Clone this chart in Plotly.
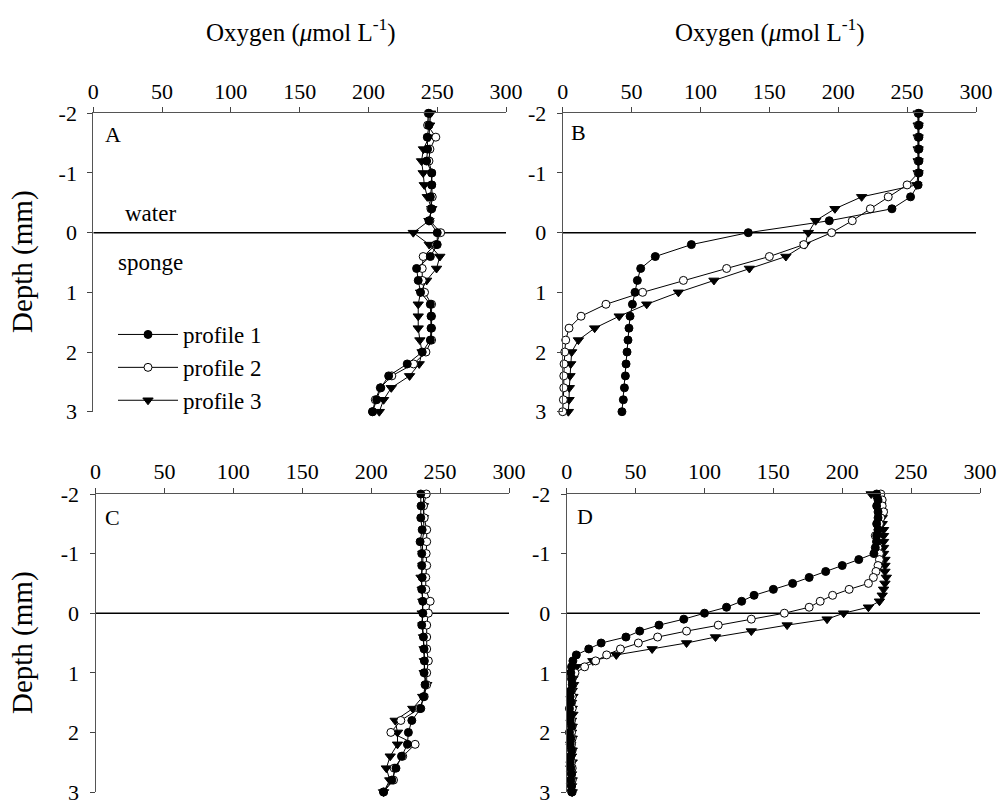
import plotly.graph_objects as go

# ---------------- data ----------------
depth_02 = [-2.0, -1.8, -1.6, -1.4, -1.2, -1.0, -0.8, -0.6, -0.4, -0.2, 0.0,
            0.2, 0.4, 0.6, 0.8, 1.0, 1.2, 1.4, 1.6, 1.8, 2.0, 2.2, 2.4, 2.6, 2.8, 3.0]

depth_01 = [-2.0, -1.9, -1.8, -1.7, -1.6, -1.5, -1.4, -1.3, -1.2, -1.1, -1.0,
            -0.9, -0.8, -0.7, -0.6, -0.5, -0.4, -0.3, -0.2, -0.1, 0.0,
            0.1, 0.2, 0.3, 0.4, 0.5, 0.6, 0.7, 0.8, 0.9, 1.0,
            1.1, 1.2, 1.3, 1.4, 1.5, 1.6, 1.7, 1.8, 1.9, 2.0,
            2.1, 2.2, 2.3, 2.4, 2.5, 2.6, 2.7, 2.8, 2.9, 3.0]

# Panel A
a_p1 = [244, 244, 242.8, 243, 242.3, 246, 246, 245, 246, 244, 250,
        250, 245, 235, 236.2, 237.9, 245, 245.5, 245.5, 245, 239.1,
        228.2, 214.7, 209, 206, 203]
a_p2 = [243.5, 243, 249, 244.7, 244, 246, 246, 246.4, 245.4, 244.7, 252.5,
        249, 239.8, 239.1, 239.1, 240.8, 245.9, 245.9, 245.9, 245.9, 241.8,
        232.8, 217, 208.6, 205, 203]
a_p3 = [245.2, 244.5, 244, 240, 238.6, 239.8, 240.6, 242.8, 246, 244, 232.6,
        244.2, 251.9, 249.5, 242.3, 237.9, 236.2, 236.2, 236.2, 237.4, 239,
        236.9, 229.9, 216.6, 211, 207.9]

# Panel B
b_p1 = [258.6, 258.6, 258.6, 258.6, 258.6, 258.6, 258, 252.5, 239, 193.5, 134.7,
        93.4, 67.2, 56.6, 54.2, 52.5, 50.6, 48.9, 48.1, 47.4, 46.7,
        46, 45.5, 44.8, 44, 43]
b_p2 = [258, 258, 258, 258, 258, 258, 250, 236.3, 223.3, 210.2, 195.2,
        175, 150, 119, 87.6, 58, 31.4, 13.3, 4.6, 2.2, 1.5,
        1, 0.8, 0.8, 0.5, 0]
b_p3 = [258, 258, 258, 258, 258, 258, 257, 217, 197.6, 183.6, 178.3,
        175.9, 162, 135.5, 109.8, 84, 61, 41, 23.2, 11.4, 6.5,
        5.8, 5.3, 4.8, 4.6, 4.1]

# Panel C
c_p1 = [236, 236.2, 236, 237, 235.5, 236.7, 236.7, 237, 236.7, 237.4, 237.5,
        236.7, 237.9, 238.4, 238.6, 238.4, 239.1, 238, 236, 229.5, 227,
        226.3, 222, 218, 215, 209]
c_p2 = [240, 238, 238.5, 240.3, 240.3, 239.9, 240.3, 239.6, 239.6, 242.8, 241.5,
        240.3, 240.3, 240.3, 241.5, 240.3, 240.3, 238.5, 235, 221.5, 214.3,
        231.9, 222.9, 216.7, 216.2, 209]
c_p3 = [238, 237.9, 237.9, 238.4, 237, 237.5, 237.5, 236.2, 237, 237.5, 237,
        237.5, 238, 238.4, 238.6, 238.5, 240.3, 237.4, 230.2, 217.4, 219.1,
        219.1, 213.8, 211, 213.5, 209]

# Panel D
d_p1 = [225, 226, 225, 226, 226, 225, 226, 225, 225, 224, 223,
        212, 200, 188, 176, 164, 150, 136, 127, 116, 100,
        85, 67, 53, 43, 25, 16, 7, 4.5, 3.5, 3,
        3.5, 4, 3, 2.5, 3, 2, 3, 2.5, 3.5, 2,
        3, 2.5, 3.5, 3, 2.5, 3, 3.5, 3, 3.5, 3.6]
d_p2 = [228, 229, 229, 230, 228, 227, 226, 224, 225, 226, 227,
        227, 226, 224.5, 222.6, 219, 205, 193, 184, 176, 158,
        134, 110, 87, 66, 52, 39, 29, 21, 13, 6,
        4, 4.5, 3.5, 4, 3.5, 4, 3, 3.5, 4, 3.5,
        4, 3.5, 4, 3, 3.5, 4, 3.5, 4, 3.5, 4]
d_p3 = [221, 226, 228, 229, 229, 229, 230, 230, 230, 230, 230,
        231, 231, 231, 232, 231, 230, 229, 227, 219, 201,
        189, 160, 134, 108, 87, 62, 36, 19, 7, 4,
        4.5, 5, 4, 4.5, 3.5, 4, 4.5, 3.5, 4, 3.5,
        4, 3, 4, 3.5, 4, 3, 3.5, 4, 3.5, 4]

x_ticks = [0, 50, 100, 150, 200, 250, 300]
x_ticktext = ["0", "50", "100", "150", "200", "250", "300"]
y_ticks = [-2, -1, 0, 1, 2, 3]
y_ticktext = ["-2", "-1", "0", "1", "2", "3"]
profile_names = ["profile 1", "profile 2", "profile 3"]

# ---------------- figure ----------------
W, H = 999, 801
FONT = "Liberation Serif, serif"
FS = 22

panels = [
    ("", (93.3, 506.0), (113.3, 411.7), depth_02, [a_p1, a_p2, a_p3]),
    ("2", (562.7, 976.0), (113.3, 411.7), depth_02, [b_p1, b_p2, b_p3]),
    ("3", (95.5, 509.0), (494.0, 792.0), depth_02, [c_p1, c_p2, c_p3]),
    ("4", (566.7, 980.0), (494.0, 792.0), depth_01, [d_p1, d_p2, d_p3]),
]

marker_styles = [
    dict(symbol="circle", size=8, color="black", line=dict(color="black", width=1)),
    dict(symbol="circle", size=8, color="white", line=dict(color="black", width=1)),
    dict(symbol="triangle-down", size=9, color="black", line=dict(color="black", width=1)),
]

fig = go.Figure()
layout = {}
shapes = []

for pi, (suf, xd, yd, depth, series) in enumerate(panels):
    xa = "x" + suf
    ya = "y" + suf
    for k in [2, 1, 0]:
        fig.add_trace(go.Scatter(
            x=series[k], y=depth, mode="lines+markers",
            line=dict(color="black", width=1),
            marker=marker_styles[k],
            name=profile_names[k],
            legendrank=k + 1,
            showlegend=(pi == 0),
            cliponaxis=False,
            xaxis=xa, yaxis=ya,
        ))
    layout["xaxis" + suf] = dict(
        domain=[xd[0] / W, xd[1] / W], range=[0, 300], side="top",
        anchor=ya, tickmode="array", tickvals=x_ticks, ticktext=x_ticktext,
        ticks="outside", ticklen=5, tickcolor="#444", showline=True,
        linecolor="#555", linewidth=1, showgrid=False, zeroline=False,
        automargin=False, ticklabeloverflow="allow",
        tickfont=dict(family=FONT, size=FS, color="black"),
    )
    layout["yaxis" + suf] = dict(
        domain=[1 - yd[1] / H, 1 - yd[0] / H], range=[3, -2],
        anchor=xa, tickmode="array", tickvals=y_ticks, ticktext=y_ticktext,
        ticks="outside", ticklen=5, tickcolor="#444", showline=True,
        linecolor="#555", linewidth=1, showgrid=False, zeroline=False,
        automargin=False, ticklabeloverflow="allow",
        tickfont=dict(family=FONT, size=FS, color="black"),
        ticklabelstandoff=6,
    )
    shapes.append(dict(type="line", xref=xa, yref=ya, x0=0, x1=300, y0=0, y1=0,
                       line=dict(color="black", width=1.5), layer="below"))

def ann(text, xpx, ypx, size=FS, angle=0, xanchor="center"):
    return dict(text=text, x=xpx / W, y=1 - ypx / H, xref="paper", yref="paper",
                showarrow=False, xanchor=xanchor, yanchor="middle", textangle=angle,
                font=dict(family=FONT, size=size, color="black"))

title_txt = "Oxygen (<i>μ</i>mol L<sup>-1</sup>)"
annotations = [
    ann(title_txt, 301, 31, size=25),
    ann(title_txt, 770, 31, size=25),
    ann("Depth (mm)", 22, 262, size=29, angle=-90),
    ann("Depth (mm)", 22, 643, size=29, angle=-90),
    ann("A", 113, 135),
    ann("B", 578, 133),
    ann("C", 112, 517),
    ann("D", 585, 516),
    ann("water", 150, 213, size=23),
    ann("sponge", 150, 262, size=23),
]

fig.update_layout(
    width=W, height=H,
    margin=dict(l=0, r=0, t=0, b=0, autoexpand=False),
    paper_bgcolor="white", plot_bgcolor="white",
    font=dict(family=FONT, size=FS, color="black"),
    showlegend=True,
    legend=dict(x=113 / W, y=1 - 313 / H, xanchor="left", yanchor="top",
                bgcolor="rgba(0,0,0,0)", borderwidth=0,
                font=dict(family=FONT, size=23, color="black"),
                itemwidth=60, tracegroupgap=0),
    shapes=shapes,
    annotations=annotations,
    **layout,
)

fig.write_html(
    "out.html",
    config={"displayModeBar": False},
    post_script="document.body.style.margin='0px';document.body.style.overflow='hidden';",
)
